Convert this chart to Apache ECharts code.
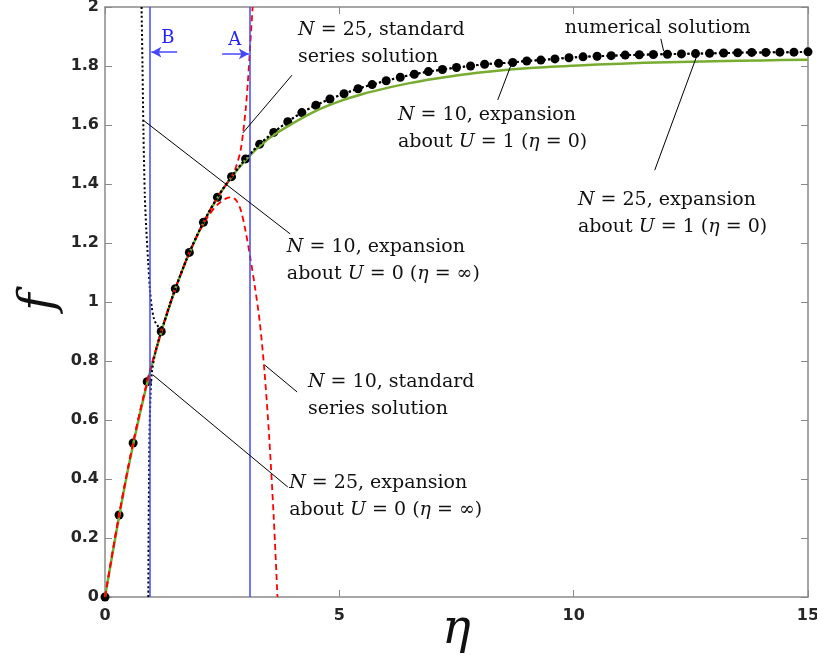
<!DOCTYPE html>
<html>
<head>
<meta charset="utf-8">
<script src="https://cdn.jsdelivr.net/npm/echarts@6/dist/echarts.min.js"></script>
<style>
  html, body { margin: 0; padding: 0; background: #fff; }
  #main { width: 817px; height: 657px; }
</style>
</head>
<body>
<div id="main"></div>
<script>
// numerical solution (markers)
var etaNum = [0, 0.3, 0.6, 0.9, 1.2, 1.5, 1.8, 2.1, 2.4, 2.7, 3.0, 3.3, 3.6, 3.9, 4.2, 4.5, 4.8,
  5.1, 5.4, 5.7, 6.0, 6.3, 6.6, 6.9, 7.2, 7.5, 7.8, 8.1, 8.4, 8.7, 9.0, 9.3, 9.6, 9.9, 10.2,
  10.5, 10.8, 11.1, 11.4, 11.7, 12.0, 12.3, 12.6, 12.9, 13.2, 13.5, 13.8, 14.1, 14.4, 14.7, 15.0];
var fNum = [0, 0.278, 0.522, 0.730, 0.900, 1.045, 1.168, 1.270, 1.355, 1.425, 1.485, 1.535, 1.575,
  1.611, 1.642, 1.667, 1.688, 1.706, 1.723, 1.737, 1.750, 1.762, 1.772, 1.781, 1.788, 1.795,
  1.800, 1.806, 1.809, 1.812, 1.817, 1.820, 1.824, 1.828, 1.831, 1.833, 1.835, 1.837, 1.838,
  1.839, 1.840, 1.841, 1.842, 1.843, 1.844, 1.845, 1.846, 1.846, 1.847, 1.847, 1.848];

// N=10, expansion about U=1 (green)
var etaU1 = [0, 0.5, 1, 1.5, 2, 2.5, 3, 3.5, 4, 4.5, 5, 5.5, 6, 6.5, 7, 7.5, 8, 9, 10, 11, 12, 13, 14, 15];
var fU1 = [0, 0.44, 0.787, 1.045, 1.237, 1.379, 1.482, 1.555, 1.605, 1.648, 1.680, 1.705, 1.725,
  1.742, 1.756, 1.768, 1.778, 1.792, 1.801, 1.808, 1.813, 1.816, 1.819, 1.821];

// N=10, standard series solution (red dashed)
var etaS10 = [0, 0.3, 0.6, 0.9, 1.2, 1.5, 1.8, 2.0, 2.2, 2.4, 2.6, 2.7, 2.8, 2.9, 3.0, 3.1, 3.2, 3.3, 3.4, 3.5, 3.6, 3.68];
var fS10 = [0, 0.278, 0.522, 0.730, 0.900, 1.045, 1.166, 1.235, 1.29, 1.33, 1.352, 1.355, 1.345,
  1.31, 1.24, 1.15, 1.05, 0.935, 0.77, 0.55, 0.27, 0];

// N=25, standard series solution (red dashed)
var etaS25 = [0, 0.3, 0.6, 0.9, 1.2, 1.5, 1.8, 2.1, 2.4, 2.7, 2.8, 2.9, 3.0, 3.05, 3.1, 3.15];
var fS25 = [0, 0.278, 0.522, 0.730, 0.900, 1.045, 1.168, 1.270, 1.355, 1.425, 1.46, 1.52, 1.65, 1.75, 1.875, 2.0];

// expansions about U=0 (black dotted), the part that leaves the numerical curve
var etaE10 = [0.78, 0.80, 0.82, 0.85, 0.88, 0.92, 0.96, 1.0, 1.05, 1.1, 1.17, 1.25, 1.35];
var fE10 = [2.0, 1.80, 1.58, 1.36, 1.25, 1.14, 1.04, 0.98, 0.94, 0.925, 0.912, 0.925, 0.975];
var etaE25 = [0.925, 0.93, 0.94, 0.95, 0.97, 1.0, 1.05, 1.1, 1.2, 1.35];
var fE25 = [0, 0.2, 0.4, 0.55, 0.68, 0.76, 0.81, 0.845, 0.9, 0.975];

// radius of convergence markers
var etaB = 0.96, etaA = 3.09;

function pairs(xs, ys) { return xs.map(function (x, i) { return [x, ys[i]]; }); }
// beyond eta=1.5 both U=0 expansions lie on the numerical curve
var tail = pairs(etaNum, fNum).filter(function (p) { return p[0] >= 1.5; });

var serif = 'DejaVu Serif';
var axisGrey = '#8a8a8a';

var annotations = [
  { text: '{i|N} = 25, standard\nseries solution', at: [4.12, 1.969], line: [[3.99, 1.769], [2.94, 1.573]] },
  { text: 'numerical solutiom', at: [9.81, 1.976], line: [[11.86, 1.892], [11.92, 1.851]] },
  { text: '{i|N} = 10, expansion\nabout {i|U} = 1 ({i|η} = 0)', at: [6.25, 1.681], line: [[8.38, 1.685], [8.68, 1.81]] },
  { text: '{i|N} = 25, expansion\nabout {i|U} = 1 ({i|η} = 0)', at: [10.09, 1.392], line: [[11.73, 1.447], [12.65, 1.844]] },
  { text: '{i|N} = 10, expansion\nabout {i|U} = 0 ({i|η} = ∞)', at: [3.88, 1.231], line: [[0.81, 1.617], [3.95, 1.231]] },
  { text: '{i|N} = 10, standard\nseries solution', at: [4.33, 0.773], line: [[3.41, 0.786], [4.10, 0.695]] },
  { text: '{i|N} = 25, expansion\nabout {i|U} = 0 ({i|η} = ∞)', at: [3.93, 0.431], line: [[1.02, 0.753], [3.90, 0.373]] }
];

function frameAxis(pos, isX) {
  return {
    type: 'value', position: pos,
    min: 0, max: isX ? 15 : 2, interval: isX ? 5 : 0.2,
    axisLine: { show: true, onZero: false, lineStyle: { color: axisGrey, width: 1.5 } },
    axisTick: { show: true, inside: true, length: 7, lineStyle: { color: axisGrey, width: 1 } },
    axisLabel: { show: false },
    splitLine: { show: false }
  };
}

var xMain = frameAxis('bottom', true);
xMain.axisLabel = { show: true, color: '#262626', fontFamily: 'DejaVu Sans', fontWeight: 'bold', fontSize: 16, margin: 11 };
xMain.name = 'η';
xMain.nameLocation = 'middle';
xMain.nameGap = 10;
xMain.nameMoveOverlap = false;
xMain.nameTextStyle = { fontFamily: serif, fontStyle: 'italic', fontSize: 48, color: '#111' };

var yMain = frameAxis('left', false);
yMain.axisLabel = { show: true, color: '#262626', fontFamily: 'DejaVu Sans', fontWeight: 'bold', fontSize: 16, margin: 6,
  formatter: function (v) { return +v.toFixed(1) + ''; } };
yMain.name = 'f';
yMain.nameLocation = 'middle';
yMain.nameGap = 40;
yMain.nameMoveOverlap = false;
yMain.nameTextStyle = { fontFamily: serif, fontStyle: 'italic', fontSize: 48, color: '#111' };

var xTop = frameAxis('top', true);
var yRight = frameAxis('right', false);

var chart = echarts.init(document.getElementById('main'));

var option = {
  animation: false,
  backgroundColor: '#fff',
  grid: { left: 105, right: 9, top: 7, bottom: 60, containLabel: false, outerBoundsMode: 'none' },
  xAxis: [xMain, xTop],
  yAxis: [yMain, yRight],
  series: [
    {
      // blue lines A and B with arrows
      type: 'line', data: [], silent: true,
      markLine: {
        silent: true, animation: false,
        symbol: ['none', 'none'],
        label: { show: false },
        lineStyle: { color: '#4646ff', type: 'solid', width: 1.5 },
        data: [
          { xAxis: etaB },
          { xAxis: etaA },
          [{ coord: [1.54, 1.847], symbol: 'none' }, { coord: [0.99, 1.847], symbol: 'arrow', symbolSize: [8, 10] }],
          [{ coord: [2.50, 1.841], symbol: 'none' }, { coord: [3.07, 1.841], symbol: 'arrow', symbolSize: [8, 10] }]
        ]
      }
    },
    {
      name: 'N=10 about U=1', type: 'line', data: pairs(etaU1, fU1), smooth: 0.3,
      showSymbol: false, symbol: 'none',
      lineStyle: { color: '#77ac30', width: 2.5 }
    },
    {
      name: 'numerical', type: 'scatter', data: pairs(etaNum, fNum),
      symbol: 'circle', symbolSize: 9, itemStyle: { color: '#000', opacity: 1 }
    },
    {
      name: 'N=10 series', type: 'line', data: pairs(etaS10, fS10), smooth: 0.3,
      showSymbol: false, symbol: 'none',
      lineStyle: { color: '#ff0000', width: 1.8, type: [6, 4] }
    },
    {
      name: 'N=25 series', type: 'line', data: pairs(etaS25, fS25), smooth: 0.3,
      showSymbol: false, symbol: 'none',
      lineStyle: { color: '#ff0000', width: 1.8, type: [6, 4] }
    },
    {
      name: 'N=10 about U=0', type: 'line', data: pairs(etaE10, fE10).concat(tail), smooth: 0.3,
      showSymbol: false, symbol: 'none',
      lineStyle: { color: '#000', width: 2, type: [2, 2.5] }
    },
    {
      name: 'N=25 about U=0', type: 'line', data: pairs(etaE25, fE25).concat(tail), smooth: 0.3,
      showSymbol: false, symbol: 'none',
      lineStyle: { color: '#000', width: 2, type: [2, 2.5] }
    },
    {
      // annotation leader lines
      type: 'line', data: [], silent: true,
      markLine: {
        silent: true, animation: false, symbol: ['none', 'none'],
        label: { show: false },
        lineStyle: { color: '#000', type: 'solid', width: 1 },
        data: annotations.map(function (a) { return [{ coord: a.line[0] }, { coord: a.line[1] }]; })
      }
    }
  ]
};
chart.setOption(option);

// text labels placed in data coordinates
var richStyle = {
  i: { fontFamily: serif, fontStyle: 'italic', fontSize: 19, lineHeight: 27, fill: '#111' }
};
var graphics = annotations.map(function (a) {
  var p = chart.convertToPixel({ gridIndex: 0 }, a.at);
  return {
    type: 'text', x: p[0], y: p[1], silent: true,
    style: {
      text: a.text, rich: richStyle,
      fontFamily: serif, fontSize: 19, lineHeight: 27, fill: '#111',
      align: 'left', verticalAlign: 'top'
    }
  };
});
var pB = chart.convertToPixel({ gridIndex: 0 }, [1.34, 1.895]);
var pA = chart.convertToPixel({ gridIndex: 0 }, [2.77, 1.888]);
graphics.push({ type: 'text', x: pB[0], y: pB[1], silent: true,
  style: { text: 'B', fontFamily: serif, fontSize: 18, fill: '#2020ff', align: 'center', verticalAlign: 'middle' } });
graphics.push({ type: 'text', x: pA[0], y: pA[1], silent: true,
  style: { text: 'A', fontFamily: serif, fontSize: 18, fill: '#2020ff', align: 'center', verticalAlign: 'middle' } });
chart.setOption({ graphic: graphics });
</script>
</body>
</html>
